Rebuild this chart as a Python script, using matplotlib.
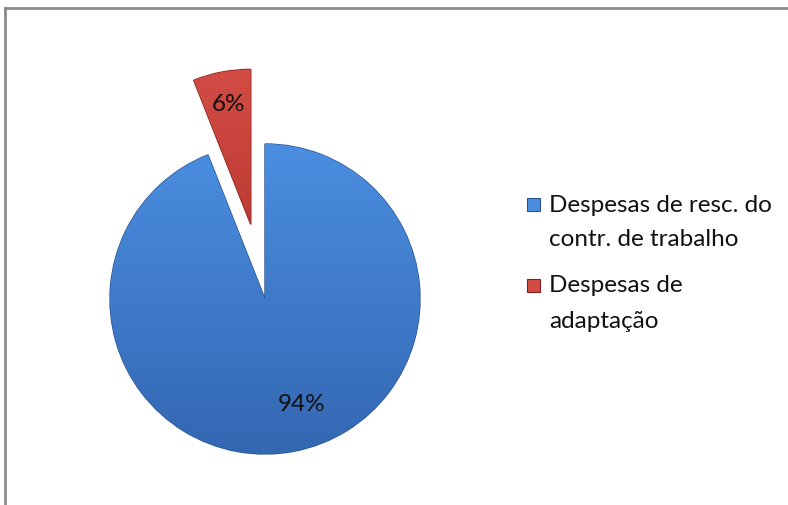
import matplotlib
matplotlib.use("Agg")
import numpy as np
import matplotlib.pyplot as plt
from matplotlib.patches import Rectangle
from matplotlib.lines import Line2D
from matplotlib.colors import LinearSegmentedColormap

labels = ["Despesas de resc. do\ncontr. de trabalho", "Despesas de\nadaptação"]
values = [94, 6]
colors = ["#3f7fd2", "#c43c35"]
light_colors = ["#4b8ee0", "#d24c44"]
dark_colors = ["#3367b2", "#a82a25"]
edge_colors = ["#2a5490", "#7f1f1b"]
explode = [0, 0.49]

plt.rcParams["font.family"] = ["Lato", "DejaVu Sans"]

W, H = 788, 506
fig = plt.figure(figsize=(W / 100, H / 100), dpi=100)
fig.patch.set_facecolor("white")

# axes in radius units, pie centre at pixel (265, 300), radius 155 px
R = 155.0
cx, cy = 265.0, 300.0
ax = fig.add_axes([0, 0, 1, 1])

wedges, texts = ax.pie(
    values, colors=colors, explode=explode, startangle=90, counterclock=False,
    radius=1.0, labels=None,
    wedgeprops=dict(linewidth=1.0, antialiased=True),
)

# soft vertical shading inside each wedge
grad = np.linspace(0, 1, 256).reshape(-1, 1)
for w, lc, dc, ec in zip(wedges, light_colors, dark_colors, edge_colors):
    w.set_edgecolor(ec)
    x0, y0 = w.center
    cmap = LinearSegmentedColormap.from_list("shade", [dc, lc])
    im = ax.imshow(grad, cmap=cmap, origin="lower", aspect="auto",
                   extent=(x0 - 1, x0 + 1, y0 - 1, y0 + 1), zorder=w.get_zorder() + 0.1)
    im.set_clip_path(w)

# percent labels
ax.text((302 - cx) / R, (cy - 405) / R, f"{values[0]}%", ha="center", va="center",
        fontsize=17.5, color="#111111", zorder=5)
ax.text((228 - cx) / R, (cy - 105) / R, f"{values[1]}%", ha="center", va="center",
        fontsize=17.5, color="#111111", zorder=5)

ax.set_xlim(-cx / R, (W - cx) / R)
ax.set_ylim(-(H - cy) / R, cy / R)
ax.set_aspect("equal", adjustable="box")
ax.axis("off")

# legend: square key beside the first line of each entry
entry_y = [205, 286]
line_gap = 35
for lab, c, e, y in zip(labels, light_colors, edge_colors, entry_y):
    fig.add_artist(Rectangle((527 / W, 1 - (y + 6.5) / H), 13 / W, 13 / H,
                             facecolor=c, edgecolor=e, linewidth=0.8,
                             transform=fig.transFigure))
    for k, line in enumerate(lab.split("\n")):
        fig.text(549 / W, 1 - (y + k * line_gap) / H, line, ha="left", va="center",
                 fontsize=17.5, color="#111111")

# chart frame: top and left edges
fig.add_artist(Line2D([4.5 / W, 4.5 / W], [0, 1 - 9 / H], color="#8c8c8c", linewidth=2.0))
fig.add_artist(Line2D([4.5 / W, 1], [1 - 9 / H, 1 - 9 / H], color="#8c8c8c", linewidth=2.0))

fig.savefig("out.png", dpi=100, facecolor="white")
